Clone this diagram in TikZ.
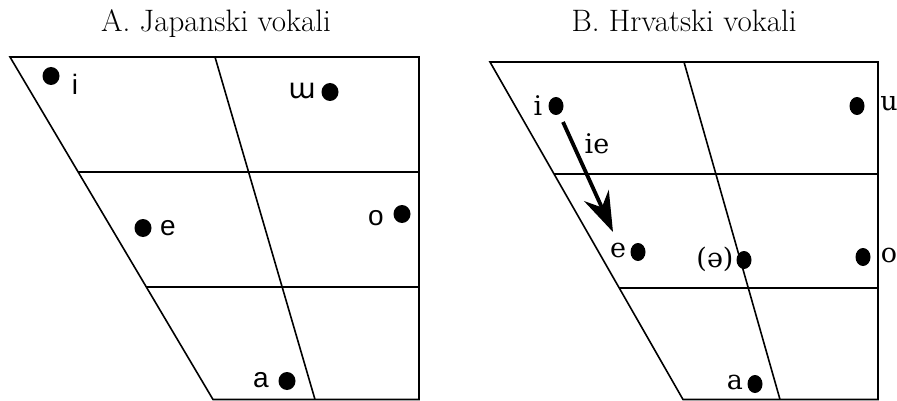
\documentclass[tikz,border=0pt]{standalone}
\usepackage{fontspec}
\newfontfamily\labsans{Liberation Sans}
\newfontfamily\labipa{DejaVu Sans}
\newfontfamily\labserif{DejaVu Serif}
\usetikzlibrary{shapes.geometric,arrows.meta}
\begin{document}
\begin{tikzpicture}[x=1pt,y=-1pt,
  frame/.style={line width=1.6pt},
  dotA/.style={ellipse,fill=black,minimum width=17pt,minimum height=18pt,inner sep=0pt},
  dotB/.style={ellipse,fill=black,minimum width=15pt,minimum height=18pt,inner sep=0pt},
  labA/.style={inner sep=0pt,font=\labsans\fontsize{28}{32}\selectfont},
  labB/.style={inner sep=0pt,font=\labserif\fontsize{27}{31}\selectfont},
  ttl/.style={inner sep=0pt,anchor=base,font=\fontsize{31}{36}\selectfont}]
\useasboundingbox (0,0) rectangle (897,401);
% titles
\node[ttl] (tA) at (216,32) {A. Japanski vokali};
\node[ttl] (tB) at (684,32) {B. Hrvatski vokali};
% panel A frame
\draw[frame] (10,57) -- (419,57) -- (419,399.5) -- (213,399.5) -- cycle;
\draw[frame] (215,57) -- (315,399.5);
\draw[frame] (78,172) -- (419,172);
\draw[frame] (146,287) -- (419,287);
% panel A vowels
\node[dotA] (Ai) at (51,76) {};
\node[labA] (Ail) at (75,84) {i};
\node[dotA] (Au) at (330,92) {};
\node[labA] (Aul) at (302,91) {\labipa ɯ};
\node[dotA] (Ae) at (143,228) {};
\node[labA] (Ael) at (168,228) {e};
\node[dotA] (Ao) at (402,214) {};
\node[labA] (Aol) at (376,218) {o};
\node[dotA] (Aa) at (287,381) {};
\node[labA] (Aal) at (261,380) {a};
% panel B frame
\draw[frame] (490,62) -- (878,62) -- (878,399.5) -- (683,399.5) -- cycle;
\draw[frame] (684,62) -- (780,399.5);
\draw[frame] (554,174) -- (878,174);
\draw[frame] (619,288) -- (878,288);
% panel B vowels
\node[dotB] (Bi) at (556,106) {};
\node[labB] (Bil) at (538,106) {i};
\node[dotB] (Bu) at (857,106) {};
\node[labB] (Bul) at (889,104) {u};
\node[dotB] (Be) at (638,252) {};
\node[labB] (Bel) at (618,250) {e};
\node[dotB] (Bs) at (744,260) {};
\node[labB] (Bsl) at (715,259) {(ə)};
\node[dotB] (Bo) at (863,257) {};
\node[labB] (Bol) at (889,255) {o};
\node[dotB] (Ba) at (755,384) {};
\node[labB] (Bal) at (735,382) {a};
% arrow
\coordinate (arS) at (563,122);
\coordinate (arE) at (613,232);
\draw[line width=3.8pt,-{Stealth[length=40pt,width=27pt,inset=13pt]}] (arS) -- (arE);
\node[labB] (ie) at (597,144) {ie};
\end{tikzpicture}
\end{document}
